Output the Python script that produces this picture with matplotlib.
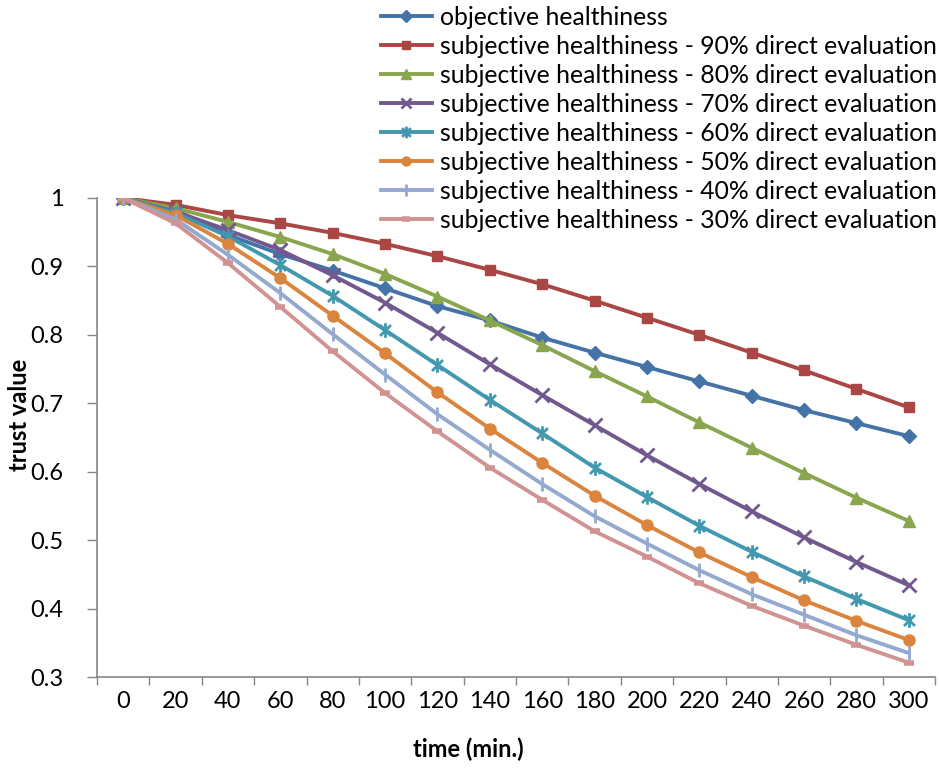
import matplotlib.pyplot as plt
from matplotlib.path import Path
import numpy as np

# time axis (minutes)
times = [0, 20, 40, 60, 80, 100, 120, 140, 160, 180, 200, 220, 240, 260, 280, 300]

# trust values
objective = [1.0, 0.982, 0.946, 0.918, 0.894, 0.868, 0.842, 0.821, 0.796, 0.774, 0.753, 0.732, 0.711, 0.690, 0.671, 0.652]
subj_90 = [1.0, 0.990, 0.975, 0.963, 0.949, 0.933, 0.915, 0.895, 0.874, 0.850, 0.825, 0.800, 0.774, 0.748, 0.721, 0.694]
subj_80 = [1.0, 0.985, 0.965, 0.943, 0.918, 0.889, 0.856, 0.821, 0.785, 0.747, 0.710, 0.672, 0.635, 0.598, 0.562, 0.528]
subj_70 = [1.0, 0.980, 0.953, 0.924, 0.887, 0.847, 0.803, 0.757, 0.712, 0.668, 0.624, 0.582, 0.542, 0.504, 0.468, 0.434]
subj_60 = [1.0, 0.978, 0.944, 0.902, 0.857, 0.807, 0.756, 0.705, 0.656, 0.606, 0.563, 0.521, 0.483, 0.447, 0.414, 0.383]
subj_50 = [1.0, 0.975, 0.933, 0.883, 0.828, 0.773, 0.716, 0.663, 0.613, 0.565, 0.522, 0.482, 0.446, 0.412, 0.382, 0.354]
subj_40 = [1.0, 0.969, 0.917, 0.861, 0.801, 0.742, 0.684, 0.632, 0.582, 0.535, 0.495, 0.456, 0.421, 0.391, 0.361, 0.335]
subj_30 = [1.0, 0.963, 0.905, 0.841, 0.776, 0.715, 0.659, 0.606, 0.559, 0.513, 0.476, 0.437, 0.404, 0.375, 0.347, 0.321]

labels = ['objective healthiness'] + \
    ['subjective healthiness - %d%% direct evaluation' % p for p in [90, 80, 70, 60, 50, 40, 30]]

plt.rcParams['font.family'] = ['Lato', 'DejaVu Sans']

# excel style asterisk: x plus a vertical bar
asterisk = Path([(0, -1), (0, 1), (-0.75, -0.75), (0.75, 0.75), (-0.75, 0.75), (0.75, -0.75)],
                [Path.MOVETO, Path.LINETO, Path.MOVETO, Path.LINETO, Path.MOVETO, Path.LINETO])

series = [
    (objective, '#4572A7', 'D', 7.5, 1),
    (subj_90, '#AA4643', 's', 7.5, 1),
    (subj_80, '#89A54E', '^', 8.5, 1),
    (subj_70, '#71588F', 'x', 9.5, 2),
    (subj_60, '#4198AF', asterisk, 10.5, 2),
    (subj_50, '#DB843D', 'o', 8, 1),
    (subj_40, '#93A9CF', '|', 10.5, 2),
    (subj_30, '#D19392', '_', 7.5, 4),
]

fig = plt.figure(figsize=(9.39, 7.71), dpi=100)
ax = fig.add_axes([97 / 939, 1 - 677 / 771, 838 / 939, 479 / 771])

for (vals, col, mk, ms, mew), lab in zip(series, labels):
    ax.plot(times, vals, color=col, lw=2.8, marker=mk, markersize=ms,
            markeredgewidth=mew, markerfacecolor=col, markeredgecolor=col, label=lab)

ax.set_xlim(-10, 310)
ax.set_ylim(0.3, 1.0)

# tick marks between categories, labels on the categories
ax.set_xticks(np.arange(-10, 311, 20))
ax.set_xticklabels([])
ax.set_xticks(times, minor=True)
ax.set_xticklabels([str(t) for t in times], minor=True)
ax.tick_params(axis='x', which='major', length=6, width=1, color='#868686', direction='out')
ax.tick_params(axis='x', which='minor', length=0, pad=10, labelsize=17)

yt = [0.3, 0.4, 0.5, 0.6, 0.7, 0.8, 0.9, 1.0]
ax.set_yticks(yt)
ax.set_yticklabels(['%g' % v for v in yt])
ax.tick_params(axis='y', length=7, width=1, color='#868686', direction='out', pad=17, labelsize=17)

for s in ['top', 'right']:
    ax.spines[s].set_visible(False)
for s in ['left', 'bottom']:
    ax.spines[s].set_color('#868686')
    ax.spines[s].set_linewidth(1.2)

ax.set_xlabel('time (min.)', fontsize=17, fontweight='bold')
ax.xaxis.set_label_coords((468 - 97) / 838, -(738 - 677) / 479)
ax.set_ylabel('trust value', fontsize=17, fontweight='bold')
ax.yaxis.set_label_coords(-(97 - 31) / 838, (677 - 415) / 479)

leg = ax.legend(loc='upper right', bbox_to_anchor=(937 / 939, 1 - 6 / 771),
                bbox_transform=fig.transFigure, frameon=False, fontsize=17.8,
                handlelength=2.05, handletextpad=0.33, labelspacing=0.24,
                borderpad=0, borderaxespad=0)
for h in leg.legend_handles:
    h.set_markersize(h.get_markersize() * 0.8)

fig.savefig('out.png', dpi=100)
